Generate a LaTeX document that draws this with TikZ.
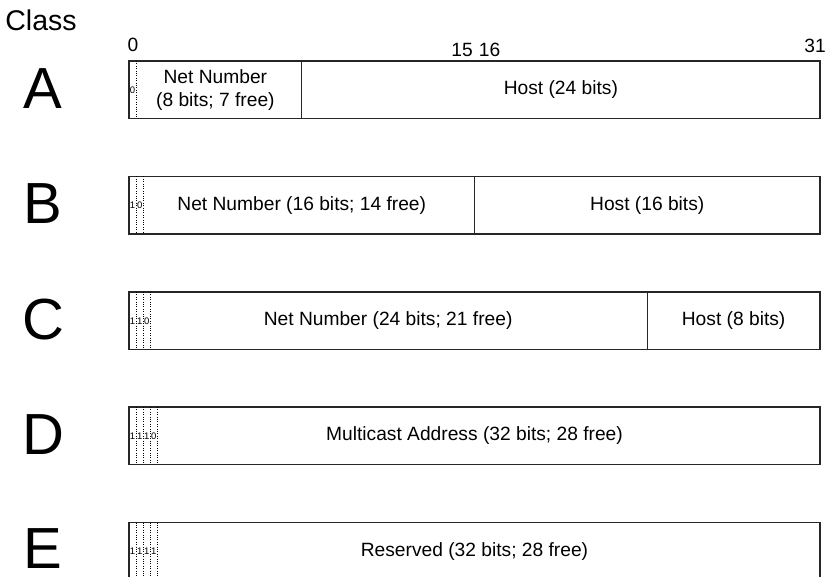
\documentclass[tikz,border=0pt]{standalone}
\usepackage{fontspec}
\setmainfont{Liberation Sans}
\usepackage{tikz}
\usetikzlibrary{positioning}

\begin{document}
\begin{tikzpicture}[
  x=1pt, y=-1pt,
  every node/.style={font=\fontsize{19.2}{23}\selectfont},
  field/.style={rectangle, draw=black!85, line width=1.1pt, minimum height=57.5pt,
    inner sep=0pt, outer sep=0pt, align=center},
  cls/.style={font=\fontsize{58}{60}\selectfont, inner sep=0pt},
  flag/.style={font=\fontsize{9.5}{10}\selectfont, inner sep=0pt},
  bitline/.style={black, line width=0.7pt, dash pattern=on 1pt off 1.4pt},
]
\useasboundingbox (0,0) rectangle (828,577);

%% Header
\node[font=\fontsize{28.5}{30}\selectfont, inner sep=0pt] (title) at (41,20) {Class};
\node[inner sep=0pt] (n0)  at (133,45)   {0};
\node[inner sep=0pt] (n15) at (462,50)   {15};
\node[inner sep=0pt] (n16) at (489.5,50) {16};
\node[inner sep=0pt] (n31) at (815,45.5) {31};

%% Class A
\node[cls] (ca) at (43,88.25) {A};
\node[field, minimum width=172.75pt, anchor=north west] (anet) at (129,61) {Net Number\\(8 bits; 7 free)};
\node[field, minimum width=518.25pt, right=0pt of anet] (ahost) {Host (24 bits)};
\foreach \d [count=\k] in {0} {
  \draw[bitline] ([xshift=\k*7.1pt]anet.north west) -- ([xshift=\k*7.1pt]anet.south west);
  \node[flag] (a\k) at ([xshift={\k*7.1pt-3.55pt}]anet.west) {\d};
}

%% Class B
\node[cls] (cb) at (43,203.75) {B};
\node[field, minimum width=345.5pt, anchor=north west] (bnet) at (129,176.5) {Net Number (16 bits; 14 free)};
\node[field, minimum width=345.5pt, right=0pt of bnet] (bhost) {Host (16 bits)};
\foreach \d [count=\k] in {1,0} {
  \draw[bitline] ([xshift=\k*7.1pt]bnet.north west) -- ([xshift=\k*7.1pt]bnet.south west);
  \node[flag] (b\k) at ([xshift={\k*7.1pt-3.55pt}]bnet.west) {\d};
}

%% Class C
\node[cls] (cc) at (43,319.25) {C};
\node[field, minimum width=518.25pt, anchor=north west] (cnet) at (129,292) {Net Number (24 bits; 21 free)};
\node[field, minimum width=172.75pt, right=0pt of cnet] (chost) {Host (8 bits)};
\foreach \d [count=\k] in {1,1,0} {
  \draw[bitline] ([xshift=\k*7.1pt]cnet.north west) -- ([xshift=\k*7.1pt]cnet.south west);
  \node[flag] (c\k) at ([xshift={\k*7.1pt-3.55pt}]cnet.west) {\d};
}

%% Class D
\node[cls] (cd) at (43,434.25) {D};
\node[field, minimum width=691pt, anchor=north west] (dmc) at (129,407) {Multicast Address (32 bits; 28 free)};
\foreach \d [count=\k] in {1,1,1,0} {
  \draw[bitline] ([xshift=\k*7.1pt]dmc.north west) -- ([xshift=\k*7.1pt]dmc.south west);
  \node[flag] (d\k) at ([xshift={\k*7.1pt-3.55pt}]dmc.west) {\d};
}

%% Class E
\node[cls] (ce) at (43,549) {E};
\node[field, minimum width=691pt, anchor=north west] (eres) at (129,522.5) {Reserved (32 bits; 28 free)};
\foreach \d [count=\k] in {1,1,1,1} {
  \draw[bitline] ([xshift=\k*7.1pt]eres.north west) -- ([xshift=\k*7.1pt]eres.south west);
  \node[flag] (e\k) at ([xshift={\k*7.1pt-3.55pt}]eres.west) {\d};
}

\end{tikzpicture}
\end{document}
